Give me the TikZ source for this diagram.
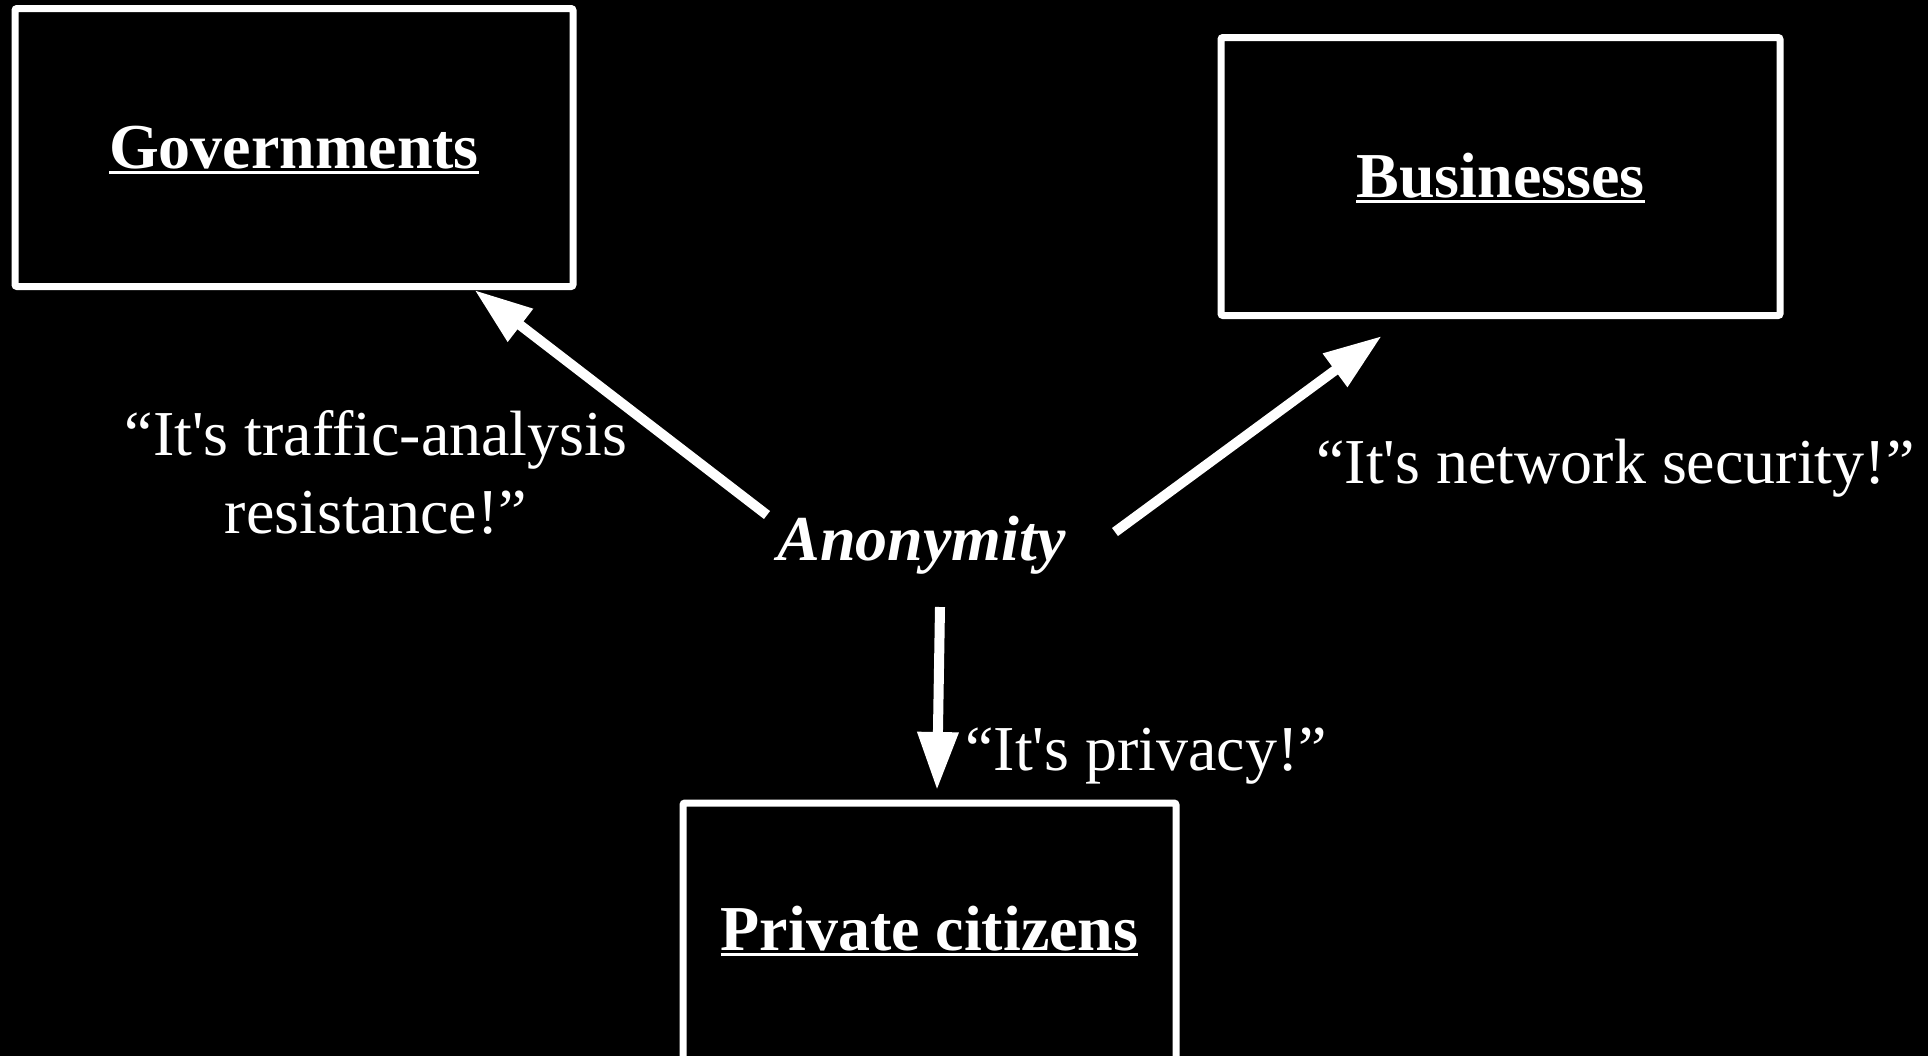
\documentclass[tikz,border=0pt]{standalone}
\usepackage{fontspec}
\setmainfont{Liberation Serif}[Ligatures=TeXOff]
\usetikzlibrary{arrows.meta}
\newcommand{\ulbox}[1]{\setbox0\hbox{#1}\rlap{\rule[-3pt]{\wd0}{1.5pt}}\box0}
\begin{document}
\begin{tikzpicture}[x=0.5pt,y=-0.5pt,
  every node/.style={text=white, inner sep=0pt, font=\fontsize{32}{39}\selectfont},
  titlebox/.style={draw=white, line width=3.5pt, rounded corners=1pt,
    font=\fontsize{32}{39}\selectfont\bfseries, text depth=0pt},
  saying/.style={font=\fontsize{32}{39}\selectfont},
  arr/.style={draw=white, line width=5pt, -{Triangle[length=29pt,width=19.5pt]}}]
\fill[black] (0,0) rectangle (1928,1056);
\useasboundingbox (0,0) rectangle (1928,1056);

% boxes
\node[titlebox, minimum width=279pt, minimum height=139pt, text height=20.5pt]
  (gov) at (294,147.5) {\ulbox{Governments}};
\node[titlebox, minimum width=279.5pt, minimum height=139pt, text height=20.5pt]
  (bus) at (1500.5,176.5) {\ulbox{Businesses}};
\node[titlebox, minimum width=246.5pt, minimum height=131.5pt, text height=15.5pt]
  (priv) at (929.5,934.5) {\ulbox{Private citizens}};

% centre
\node[font=\fontsize{32}{39}\selectfont\bfseries\itshape, anchor=base]
  (anon) at (921.5,560) {Anonymity};

% sayings
\node[saying, align=center, anchor=base] (sgov) at (376,533)
  {“It's traffic-analysis\\resistance!”};
\node[saying, anchor=base west] (sbus) at (1316,483) {“It's network security!”};
\node[saying, anchor=base west] (spriv) at (965,770) {“It's privacy!”};

% arrow end points
\coordinate (ga) at (767,515);
\coordinate (gt) at (474.5,290);
\coordinate (ba) at (1115,532);
\coordinate (bt) at (1381.7,336);
\coordinate (pa) at (940,607);
\coordinate (pt) at (937,790);

\draw[arr] (ga) -- (gt);
\draw[arr] (ba) -- (bt);
\draw[arr] (pa) -- (pt);
\end{tikzpicture}
\end{document}
